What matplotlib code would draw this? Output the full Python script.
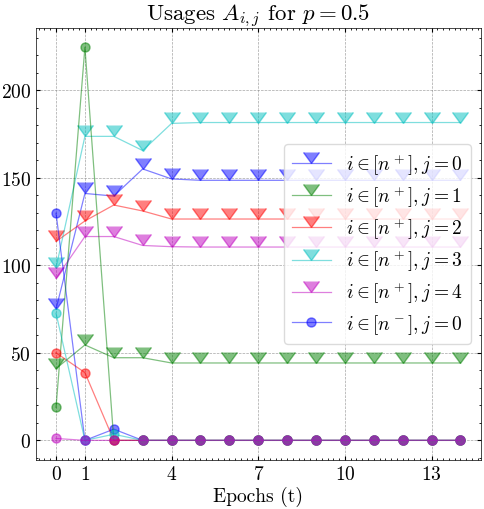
import numpy as np
import matplotlib
matplotlib.use("Agg")
import matplotlib.pyplot as plt

# epochs
t = np.arange(15)

# usages for i in [n+], j = 0..4
pos_j0 = [75, 141, 139.5, 155, 149.3] + [148.5] * 10
pos_j1 = [41, 54.5, 47.2, 47.2, 44.2] + [44.2] * 10
pos_j2 = [113.6, 125.3, 134.4, 131, 126.4] + [126.4] * 10
pos_j3 = [98.6, 173.6, 173.6, 165.5, 181] + [181.5] * 10
pos_j4 = [92.5, 116.4, 116.4, 111.3, 110.6] + [110.4] * 10

# usages for i in [n-], j = 0..4
neg_j0 = [129.7, 0, 6.4, 0] + [0] * 11
neg_j1 = [18.9, 224.5, 0, 0] + [0] * 11
neg_j2 = [50, 38.7, 0, 0] + [0] * 11
neg_j3 = [72.6, 0, 3.5, 0] + [0] * 11
neg_j4 = [1.1, 0, 0, 0] + [0] * 11

colors = ['b', 'g', 'r', 'c', 'm']
pos_series = [pos_j0, pos_j1, pos_j2, pos_j3, pos_j4]
neg_series = [neg_j0, neg_j1, neg_j2, neg_j3, neg_j4]
xticks = [0, 1, 4, 7, 10, 13]

plt.rcParams.update({
    'font.family': 'serif',
    'font.serif': ['cmr10'],
    'mathtext.fontset': 'cm',
    'axes.formatter.use_mathtext': True,
    'xtick.direction': 'in',
    'ytick.direction': 'in',
    'xtick.top': True,
    'ytick.right': True,
    'xtick.minor.visible': True,
    'ytick.minor.visible': True,
    'xtick.major.size': 3,
    'ytick.major.size': 3,
    'xtick.minor.size': 1.5,
    'ytick.minor.size': 1.5,
    'axes.linewidth': 0.5,
})

fig = plt.figure(figsize=(4.84, 5.1), dpi=100)
ax = fig.add_axes([0.074, 0.096, 0.919, 0.848])

for j, (vals, c) in enumerate(zip(pos_series, colors)):
    ax.plot(t, vals, color=c, marker=7, markersize=11, linewidth=0.9,
            alpha=0.5, label=r'$i \in [n^+], j = %d$' % j)

for j, (vals, c) in enumerate(zip(neg_series, colors)):
    ax.plot(t, vals, color=c, marker='o', markersize=6.5, linewidth=0.9,
            alpha=0.5, label=r'$i \in [n^-], j = 0$' if j == 0 else None)

ax.set_xticks(xticks)
ax.tick_params(labelsize=14)
ax.grid(True, color='gray', linestyle='--', linewidth=0.5, alpha=0.7)
ax.set_xlabel('Epochs (t)', fontsize=14, labelpad=2)
ax.set_title(r'Usages $A_{i,j}$ for $p = 0.5$', fontsize=16.5, pad=1)
ax.legend(loc='center right', fontsize=14, frameon=True, fancybox=True,
          edgecolor='lightgray', labelspacing=0.35)

fig.savefig('out.png', dpi=100)
